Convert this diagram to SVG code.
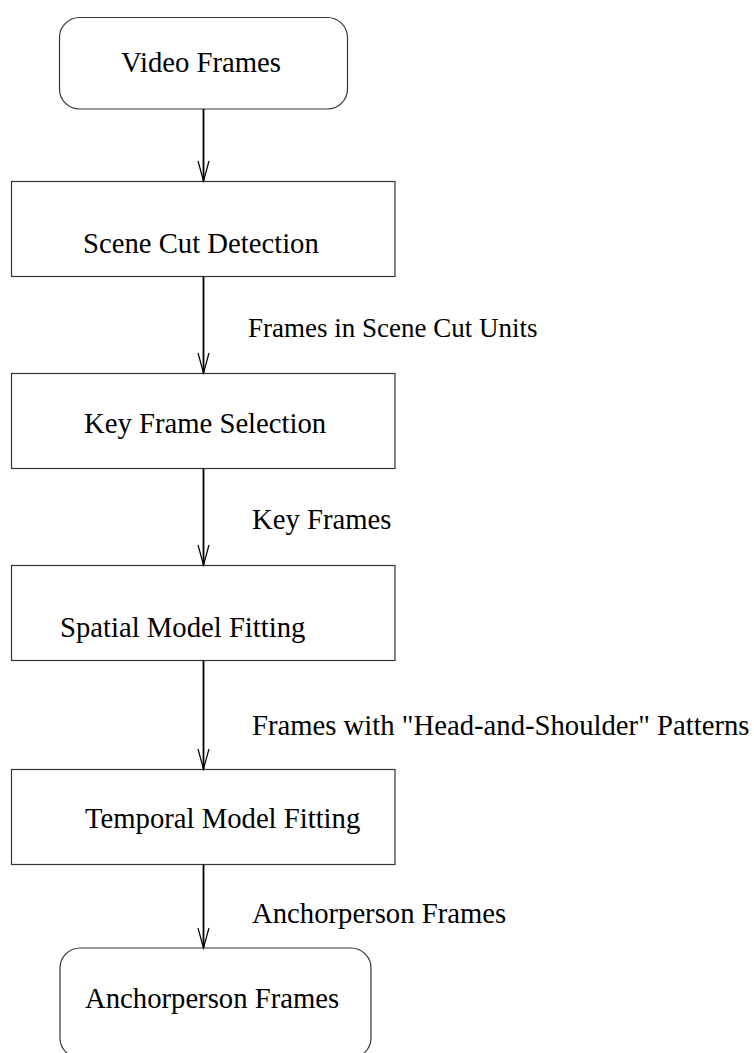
<svg xmlns="http://www.w3.org/2000/svg" width="754" height="1053" viewBox="0 0 754 1053">
  <defs>
    <style>
      .box { fill: #ffffff; stroke: #333333; stroke-width: 1.2; }
      .lbl { font-family: "Liberation Serif", "Times New Roman", serif; font-size: 28.7px; fill: #000000; }
      .small { font-size: 27px; }
      .edge { stroke: #000000; stroke-width: 1.8; fill: none; }
      .head { stroke: #000000; stroke-width: 1.2; fill: none; }
    </style>
  </defs>
  <rect width="754" height="1053" fill="#ffffff"/>

  <g id="video-frames">
    <rect class="box" x="59.5" y="17.5" width="288" height="91.5" rx="20" ry="20"/>
    <text class="lbl" x="121" y="72">Video Frames</text>
  </g>

  <g id="scene-cut-detection">
    <rect class="box" x="11.5" y="181.5" width="383.5" height="95"/>
    <text class="lbl" x="83" y="253">Scene Cut Detection</text>
  </g>

  <g id="key-frame-selection">
    <rect class="box" x="11.5" y="373.5" width="383.5" height="95"/>
    <text class="lbl" x="84" y="432.5">Key Frame Selection</text>
  </g>

  <g id="spatial-model-fitting">
    <rect class="box" x="11.5" y="565.5" width="383.5" height="95"/>
    <text class="lbl" x="60" y="636.5">Spatial Model Fitting</text>
  </g>

  <g id="temporal-model-fitting">
    <rect class="box" x="11.5" y="769.5" width="383.5" height="95"/>
    <text class="lbl" x="85" y="828">Temporal Model Fitting</text>
  </g>

  <g id="anchorperson-frames">
    <rect class="box" x="60" y="948" width="311" height="110" rx="20" ry="20"/>
    <text class="lbl" x="85" y="1008">Anchorperson Frames</text>
  </g>

  <g id="connectors">
    <!-- shafts -->
    <line class="edge" x1="203.5" y1="109" x2="203.5" y2="181"/>
    <line class="edge" x1="203.5" y1="276.5" x2="203.5" y2="373"/>
    <line class="edge" x1="203.5" y1="468.5" x2="203.5" y2="565"/>
    <line class="edge" x1="203.5" y1="660.5" x2="203.5" y2="769"/>
    <line class="edge" x1="203.5" y1="864.5" x2="203.5" y2="948"/>
    <!-- open arrowheads -->
    <path class="head" d="M198 161 L203.5 181 L209 161"/>
    <path class="head" d="M198 353 L203.5 373 L209 353"/>
    <path class="head" d="M198 545 L203.5 565 L209 545"/>
    <path class="head" d="M198 749 L203.5 769 L209 749"/>
    <path class="head" d="M198 928 L203.5 948 L209 928"/>
    <!-- edge labels -->
    <text class="lbl small" x="248" y="337">Frames in Scene Cut Units</text>
    <text class="lbl" x="252" y="529">Key Frames</text>
    <text class="lbl" x="252" y="735">Frames with "Head-and-Shoulder" Patterns</text>
    <text class="lbl" x="252" y="923">Anchorperson Frames</text>
  </g>
</svg>
